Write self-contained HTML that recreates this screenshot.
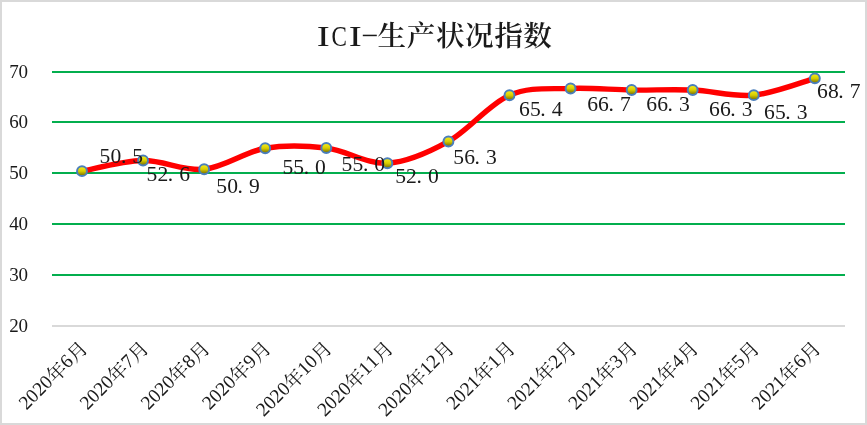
<!DOCTYPE html>
<html><head><meta charset="utf-8"><title>ICI</title>
<style>html,body{margin:0;padding:0;background:#fff;}body{width:867px;height:425px;overflow:hidden;}svg{display:block;will-change:transform;}text{font-family:"Liberation Serif","Noto Serif CJK SC",serif;fill:#1a1a1a;}</style>
</head><body>
<svg width="867" height="425" viewBox="0 0 867 425">
<defs>
<linearGradient id="mk" x1="0" y1="0" x2="0" y2="1"><stop offset="0" stop-color="#f7f01e"/><stop offset="0.5" stop-color="#d9cd00"/><stop offset="1" stop-color="#6e6600"/></linearGradient>
</defs>
<rect x="0" y="0" width="867" height="425" fill="#d9d9d9"/>
<rect x="2" y="2" width="863" height="421" fill="#ffffff"/>
<rect x="52" y="71" width="793" height="2" fill="#03ae4e"/>
<rect x="52" y="121" width="793" height="2" fill="#03ae4e"/>
<rect x="52" y="172" width="793" height="2" fill="#03ae4e"/>
<rect x="52" y="223" width="793" height="2" fill="#03ae4e"/>
<rect x="52" y="274" width="793" height="2" fill="#03ae4e"/>
<rect x="52" y="325" width="793" height="2" fill="#d9d9d9"/>
<text x="9.3" y="78.4" font-size="19.0" textLength="18.6" lengthAdjust="spacing">70</text>
<text x="9.3" y="128.4" font-size="19.0" textLength="18.6" lengthAdjust="spacing">60</text>
<text x="9.3" y="179.4" font-size="19.0" textLength="18.6" lengthAdjust="spacing">50</text>
<text x="9.3" y="230.4" font-size="19.0" textLength="18.6" lengthAdjust="spacing">40</text>
<text x="9.3" y="281.4" font-size="19.0" textLength="18.6" lengthAdjust="spacing">30</text>
<text x="9.3" y="332.4" font-size="19.0" textLength="18.6" lengthAdjust="spacing">20</text>
<text transform="translate(323.3,46) scale(1.32,1)" font-size="29.6" text-anchor="middle">I</text>
<text transform="translate(339.2,46) scale(0.78,1)" font-size="29.6" text-anchor="middle">C</text>
<text transform="translate(355.3,46) scale(1.32,1)" font-size="29.6" text-anchor="middle">I</text>
<rect x="362.8" y="34.7" width="14" height="1.5" fill="#1a1a1a"/>
<text x="377.60 406.75 435.90 465.05 494.20 523.35" y="45.6" font-size="28.6" font-weight="600" fill="#0a0a0a">生产状况指数</text>
<path d="M82.00,171.15 C92.18,169.38 122.71,160.87 143.07,160.55 C163.43,160.23 183.78,171.30 204.14,169.25 C224.50,167.20 244.85,151.78 265.21,148.25 C285.57,144.72 305.92,145.55 326.28,148.05 C346.64,150.55 366.99,164.35 387.35,163.25 C407.71,162.15 428.06,152.78 448.42,141.45 C468.78,130.12 489.13,104.08 509.49,95.25 C529.85,86.42 550.20,89.32 570.56,88.45 C590.92,87.58 611.27,89.78 631.63,90.05 C651.99,90.32 672.34,89.20 692.70,90.05 C713.06,90.90 733.41,97.10 753.77,95.15 C774.13,93.20 804.66,81.15 814.84,78.35" fill="none" stroke="#ff0000" stroke-width="5.4" stroke-linecap="round" stroke-linejoin="round"/>
<circle cx="82.00" cy="171.15" r="4.95" fill="url(#mk)" stroke="#4a7ebb" stroke-width="2.0"/>
<circle cx="143.07" cy="160.55" r="4.95" fill="url(#mk)" stroke="#4a7ebb" stroke-width="2.0"/>
<circle cx="204.14" cy="169.25" r="4.95" fill="url(#mk)" stroke="#4a7ebb" stroke-width="2.0"/>
<circle cx="265.21" cy="148.25" r="4.95" fill="url(#mk)" stroke="#4a7ebb" stroke-width="2.0"/>
<circle cx="326.28" cy="148.05" r="4.95" fill="url(#mk)" stroke="#4a7ebb" stroke-width="2.0"/>
<circle cx="387.35" cy="163.25" r="4.95" fill="url(#mk)" stroke="#4a7ebb" stroke-width="2.0"/>
<circle cx="448.42" cy="141.45" r="4.95" fill="url(#mk)" stroke="#4a7ebb" stroke-width="2.0"/>
<circle cx="509.49" cy="95.25" r="4.95" fill="url(#mk)" stroke="#4a7ebb" stroke-width="2.0"/>
<circle cx="570.56" cy="88.45" r="4.95" fill="url(#mk)" stroke="#4a7ebb" stroke-width="2.0"/>
<circle cx="631.63" cy="90.05" r="4.95" fill="url(#mk)" stroke="#4a7ebb" stroke-width="2.0"/>
<circle cx="692.70" cy="90.05" r="4.95" fill="url(#mk)" stroke="#4a7ebb" stroke-width="2.0"/>
<circle cx="753.77" cy="95.15" r="4.95" fill="url(#mk)" stroke="#4a7ebb" stroke-width="2.0"/>
<circle cx="814.84" cy="78.35" r="4.95" fill="url(#mk)" stroke="#4a7ebb" stroke-width="2.0"/>
<text x="99.60 110.50 120.90 132.30" y="163.0" font-size="21.6">50.5</text>
<text x="146.50 157.40 167.80 179.20" y="181.0" font-size="21.6">52.6</text>
<text x="216.30 227.20 237.60 249.00" y="193.0" font-size="21.6">50.9</text>
<text x="282.40 293.30 303.70 315.10" y="173.6" font-size="21.6">55.0</text>
<text x="341.60 352.50 362.90 374.30" y="171.2" font-size="21.6">55.0</text>
<text x="395.20 406.10 416.50 427.90" y="182.7" font-size="21.6">52.0</text>
<text x="453.30 464.20 474.60 486.00" y="163.8" font-size="21.6">56.3</text>
<text x="519.00 529.90 540.30 551.70" y="116.1" font-size="21.6">65.4</text>
<text x="587.20 598.10 608.50 619.90" y="110.8" font-size="21.6">66.7</text>
<text x="646.30 657.20 667.60 679.00" y="110.8" font-size="21.6">66.3</text>
<text x="709.00 719.90 730.30 741.70" y="116.1" font-size="21.6">66.3</text>
<text x="764.00 774.90 785.30 796.70" y="118.8" font-size="21.6">65.3</text>
<text x="817.00 827.90 838.30 849.70" y="97.9" font-size="21.6">68.7</text>
<g transform="translate(89.00,349.60) rotate(-45)">
<text x="-82.45" y="-1.2" font-size="19.4" text-anchor="middle">2</text>
<text x="-72.75" y="-1.2" font-size="19.4" text-anchor="middle">0</text>
<text x="-63.05" y="-1.2" font-size="19.4" text-anchor="middle">2</text>
<text x="-53.35" y="-1.2" font-size="19.4" text-anchor="middle">0</text>
<text x="-48.50" y="0" font-size="19.4">年</text>
<text x="-24.25" y="-1.2" font-size="19.4" text-anchor="middle">6</text>
<text x="-19.40" y="0" font-size="19.4">月</text>
</g>
<g transform="translate(150.07,349.60) rotate(-45)">
<text x="-82.45" y="-1.2" font-size="19.4" text-anchor="middle">2</text>
<text x="-72.75" y="-1.2" font-size="19.4" text-anchor="middle">0</text>
<text x="-63.05" y="-1.2" font-size="19.4" text-anchor="middle">2</text>
<text x="-53.35" y="-1.2" font-size="19.4" text-anchor="middle">0</text>
<text x="-48.50" y="0" font-size="19.4">年</text>
<text x="-24.25" y="-1.2" font-size="19.4" text-anchor="middle">7</text>
<text x="-19.40" y="0" font-size="19.4">月</text>
</g>
<g transform="translate(211.14,349.60) rotate(-45)">
<text x="-82.45" y="-1.2" font-size="19.4" text-anchor="middle">2</text>
<text x="-72.75" y="-1.2" font-size="19.4" text-anchor="middle">0</text>
<text x="-63.05" y="-1.2" font-size="19.4" text-anchor="middle">2</text>
<text x="-53.35" y="-1.2" font-size="19.4" text-anchor="middle">0</text>
<text x="-48.50" y="0" font-size="19.4">年</text>
<text x="-24.25" y="-1.2" font-size="19.4" text-anchor="middle">8</text>
<text x="-19.40" y="0" font-size="19.4">月</text>
</g>
<g transform="translate(272.21,349.60) rotate(-45)">
<text x="-82.45" y="-1.2" font-size="19.4" text-anchor="middle">2</text>
<text x="-72.75" y="-1.2" font-size="19.4" text-anchor="middle">0</text>
<text x="-63.05" y="-1.2" font-size="19.4" text-anchor="middle">2</text>
<text x="-53.35" y="-1.2" font-size="19.4" text-anchor="middle">0</text>
<text x="-48.50" y="0" font-size="19.4">年</text>
<text x="-24.25" y="-1.2" font-size="19.4" text-anchor="middle">9</text>
<text x="-19.40" y="0" font-size="19.4">月</text>
</g>
<g transform="translate(333.28,349.60) rotate(-45)">
<text x="-92.15" y="-1.2" font-size="19.4" text-anchor="middle">2</text>
<text x="-82.45" y="-1.2" font-size="19.4" text-anchor="middle">0</text>
<text x="-72.75" y="-1.2" font-size="19.4" text-anchor="middle">2</text>
<text x="-63.05" y="-1.2" font-size="19.4" text-anchor="middle">0</text>
<text x="-58.20" y="0" font-size="19.4">年</text>
<text x="-33.95" y="-1.2" font-size="19.4" text-anchor="middle">1</text>
<text x="-24.25" y="-1.2" font-size="19.4" text-anchor="middle">0</text>
<text x="-19.40" y="0" font-size="19.4">月</text>
</g>
<g transform="translate(394.35,349.60) rotate(-45)">
<text x="-92.15" y="-1.2" font-size="19.4" text-anchor="middle">2</text>
<text x="-82.45" y="-1.2" font-size="19.4" text-anchor="middle">0</text>
<text x="-72.75" y="-1.2" font-size="19.4" text-anchor="middle">2</text>
<text x="-63.05" y="-1.2" font-size="19.4" text-anchor="middle">0</text>
<text x="-58.20" y="0" font-size="19.4">年</text>
<text x="-33.95" y="-1.2" font-size="19.4" text-anchor="middle">1</text>
<text x="-24.25" y="-1.2" font-size="19.4" text-anchor="middle">1</text>
<text x="-19.40" y="0" font-size="19.4">月</text>
</g>
<g transform="translate(455.42,349.60) rotate(-45)">
<text x="-92.15" y="-1.2" font-size="19.4" text-anchor="middle">2</text>
<text x="-82.45" y="-1.2" font-size="19.4" text-anchor="middle">0</text>
<text x="-72.75" y="-1.2" font-size="19.4" text-anchor="middle">2</text>
<text x="-63.05" y="-1.2" font-size="19.4" text-anchor="middle">0</text>
<text x="-58.20" y="0" font-size="19.4">年</text>
<text x="-33.95" y="-1.2" font-size="19.4" text-anchor="middle">1</text>
<text x="-24.25" y="-1.2" font-size="19.4" text-anchor="middle">2</text>
<text x="-19.40" y="0" font-size="19.4">月</text>
</g>
<g transform="translate(516.49,349.60) rotate(-45)">
<text x="-82.45" y="-1.2" font-size="19.4" text-anchor="middle">2</text>
<text x="-72.75" y="-1.2" font-size="19.4" text-anchor="middle">0</text>
<text x="-63.05" y="-1.2" font-size="19.4" text-anchor="middle">2</text>
<text x="-53.35" y="-1.2" font-size="19.4" text-anchor="middle">1</text>
<text x="-48.50" y="0" font-size="19.4">年</text>
<text x="-24.25" y="-1.2" font-size="19.4" text-anchor="middle">1</text>
<text x="-19.40" y="0" font-size="19.4">月</text>
</g>
<g transform="translate(577.56,349.60) rotate(-45)">
<text x="-82.45" y="-1.2" font-size="19.4" text-anchor="middle">2</text>
<text x="-72.75" y="-1.2" font-size="19.4" text-anchor="middle">0</text>
<text x="-63.05" y="-1.2" font-size="19.4" text-anchor="middle">2</text>
<text x="-53.35" y="-1.2" font-size="19.4" text-anchor="middle">1</text>
<text x="-48.50" y="0" font-size="19.4">年</text>
<text x="-24.25" y="-1.2" font-size="19.4" text-anchor="middle">2</text>
<text x="-19.40" y="0" font-size="19.4">月</text>
</g>
<g transform="translate(638.63,349.60) rotate(-45)">
<text x="-82.45" y="-1.2" font-size="19.4" text-anchor="middle">2</text>
<text x="-72.75" y="-1.2" font-size="19.4" text-anchor="middle">0</text>
<text x="-63.05" y="-1.2" font-size="19.4" text-anchor="middle">2</text>
<text x="-53.35" y="-1.2" font-size="19.4" text-anchor="middle">1</text>
<text x="-48.50" y="0" font-size="19.4">年</text>
<text x="-24.25" y="-1.2" font-size="19.4" text-anchor="middle">3</text>
<text x="-19.40" y="0" font-size="19.4">月</text>
</g>
<g transform="translate(699.70,349.60) rotate(-45)">
<text x="-82.45" y="-1.2" font-size="19.4" text-anchor="middle">2</text>
<text x="-72.75" y="-1.2" font-size="19.4" text-anchor="middle">0</text>
<text x="-63.05" y="-1.2" font-size="19.4" text-anchor="middle">2</text>
<text x="-53.35" y="-1.2" font-size="19.4" text-anchor="middle">1</text>
<text x="-48.50" y="0" font-size="19.4">年</text>
<text x="-24.25" y="-1.2" font-size="19.4" text-anchor="middle">4</text>
<text x="-19.40" y="0" font-size="19.4">月</text>
</g>
<g transform="translate(760.77,349.60) rotate(-45)">
<text x="-82.45" y="-1.2" font-size="19.4" text-anchor="middle">2</text>
<text x="-72.75" y="-1.2" font-size="19.4" text-anchor="middle">0</text>
<text x="-63.05" y="-1.2" font-size="19.4" text-anchor="middle">2</text>
<text x="-53.35" y="-1.2" font-size="19.4" text-anchor="middle">1</text>
<text x="-48.50" y="0" font-size="19.4">年</text>
<text x="-24.25" y="-1.2" font-size="19.4" text-anchor="middle">5</text>
<text x="-19.40" y="0" font-size="19.4">月</text>
</g>
<g transform="translate(821.84,349.60) rotate(-45)">
<text x="-82.45" y="-1.2" font-size="19.4" text-anchor="middle">2</text>
<text x="-72.75" y="-1.2" font-size="19.4" text-anchor="middle">0</text>
<text x="-63.05" y="-1.2" font-size="19.4" text-anchor="middle">2</text>
<text x="-53.35" y="-1.2" font-size="19.4" text-anchor="middle">1</text>
<text x="-48.50" y="0" font-size="19.4">年</text>
<text x="-24.25" y="-1.2" font-size="19.4" text-anchor="middle">6</text>
<text x="-19.40" y="0" font-size="19.4">月</text>
</g>
</svg>
</body></html>
